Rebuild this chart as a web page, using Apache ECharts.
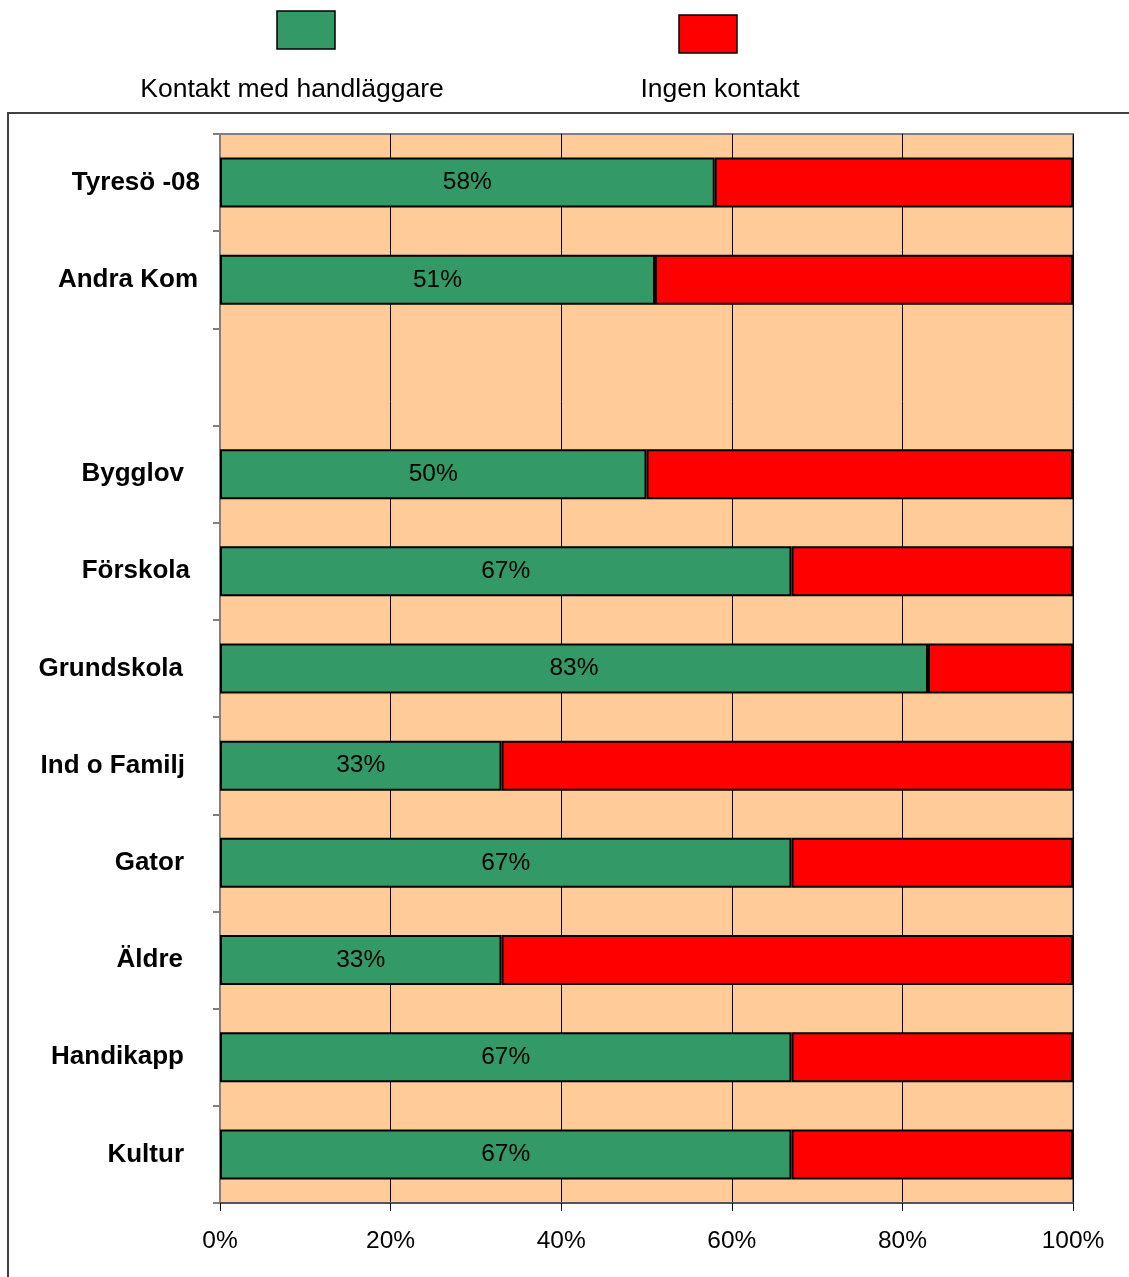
<!DOCTYPE html>
<html>
<head>
<meta charset="utf-8">
<script src="https://cdn.jsdelivr.net/npm/echarts@6/dist/echarts.min.js"></script>
<style>
  html, body { margin: 0; padding: 0; background: #ffffff; }
  #chart { width: 1129px; height: 1277px; }
</style>
</head>
<body>
<div id="chart"></div>
<script>
// Categories, top to bottom (empty slot separates the comparison rows)
const categories = ['Tyresö -08', 'Andra Kom', '', 'Bygglov', 'Förskola', 'Grundskola',
  'Ind o Familj', 'Gator', 'Äldre', 'Handikapp', 'Kultur'];
// Share with contact (percent)
const contactValues = [58, 51, null, 50, 67, 83, 33, 67, 33, 67, 67];
// Share without contact (percent)
const noContactValues = [42, 49, null, 50, 33, 17, 67, 33, 67, 33, 33];
const seriesNames = ['Kontakt med handläggare', 'Ingen kontakt'];
const xTicks = [0, 20, 40, 60, 80, 100];

// extra right padding per category label
const labelPad = {
  'Tyresö -08': 0, 'Andra Kom': 2, 'Bygglov': 16, 'Förskola': 10, 'Grundskola': 17,
  'Ind o Familj': 15, 'Gator': 16, 'Äldre': 17, 'Handikapp': 16, 'Kultur': 16
};

const FONT = '"Liberation Sans", Arial, sans-serif';
const GREEN = '#339966';
const RED = '#FF0000';

const rich = {};
Object.keys(labelPad).forEach(function (k, i) {
  rich['p' + i] = { padding: [0, labelPad[k], 0, 0], fontWeight: 'bold', fontSize: 26,
    fontFamily: FONT, color: '#000' };
});
const padKeys = Object.keys(labelPad);

const chart = echarts.init(document.getElementById('chart'), null, { renderer: 'canvas' });

chart.setOption({
  animation: false,
  backgroundColor: '#ffffff',
  textStyle: { fontFamily: FONT },
  grid: {
    left: 220, right: 56, top: 134, bottom: 74,
    show: true, backgroundColor: '#FFCC99', borderColor: '#808080', borderWidth: 2
  },
  xAxis: {
    type: 'value', min: 0, max: 100, interval: 20,
    axisLine: { show: true, lineStyle: { color: '#555555', width: 2 } },
    axisTick: { show: true, length: 8, lineStyle: { color: '#000', width: 1 } },
    splitLine: { show: true, lineStyle: { color: '#000', width: 1 } },
    axisLabel: {
      margin: 26, fontSize: 24.5, color: '#000', fontFamily: FONT,
      formatter: function (v) { return xTicks.indexOf(v) >= 0 ? v + '%' : ''; }
    }
  },
  yAxis: {
    type: 'category', data: categories, inverse: true,
    axisLine: { show: true, lineStyle: { color: '#808080', width: 2 } },
    axisTick: { show: true, length: 7, lineStyle: { color: '#808080', width: 2 } },
    splitLine: { show: false },
    axisLabel: {
      margin: 20, rich: rich,
      formatter: function (v) {
        const i = padKeys.indexOf(v);
        return i >= 0 ? '{p' + i + '|' + v + '}' : '';
      }
    }
  },
  series: [
    {
      name: seriesNames[0], type: 'bar', stack: 'total', data: contactValues,
      barWidth: 50,
      itemStyle: { color: GREEN, borderColor: '#000', borderWidth: 2 },
      label: {
        show: true, position: 'inside', fontSize: 24.5, color: '#000', fontFamily: FONT,
        formatter: function (p) { return p.value == null ? '' : p.value + '%'; }
      }
    },
    {
      name: seriesNames[1], type: 'bar', stack: 'total', data: noContactValues,
      barWidth: 50,
      itemStyle: { color: RED, borderColor: '#000', borderWidth: 2 }
    }
  ],
  graphic: [
    // outer frame (top and left edges)
    { type: 'polyline', silent: true,
      shape: { points: [[1129, 113], [8, 113], [8, 1277]] },
      style: { stroke: '#404040', lineWidth: 2, fill: null } },
    // legend
    { type: 'rect', shape: { x: 277, y: 11, width: 58, height: 38 },
      style: { fill: GREEN, stroke: '#000', lineWidth: 1.5 } },
    { type: 'text', x: 292, y: 90,
      style: { text: seriesNames[0], fill: '#000', font: '26.5px ' + FONT,
        textAlign: 'center', textVerticalAlign: 'middle' } },
    { type: 'rect', shape: { x: 679, y: 15, width: 58, height: 38 },
      style: { fill: RED, stroke: '#000', lineWidth: 1.5 } },
    { type: 'text', x: 720, y: 90,
      style: { text: seriesNames[1], fill: '#000', font: '26.5px ' + FONT,
        textAlign: 'center', textVerticalAlign: 'middle' } }
  ]
});
</script>
</body>
</html>
